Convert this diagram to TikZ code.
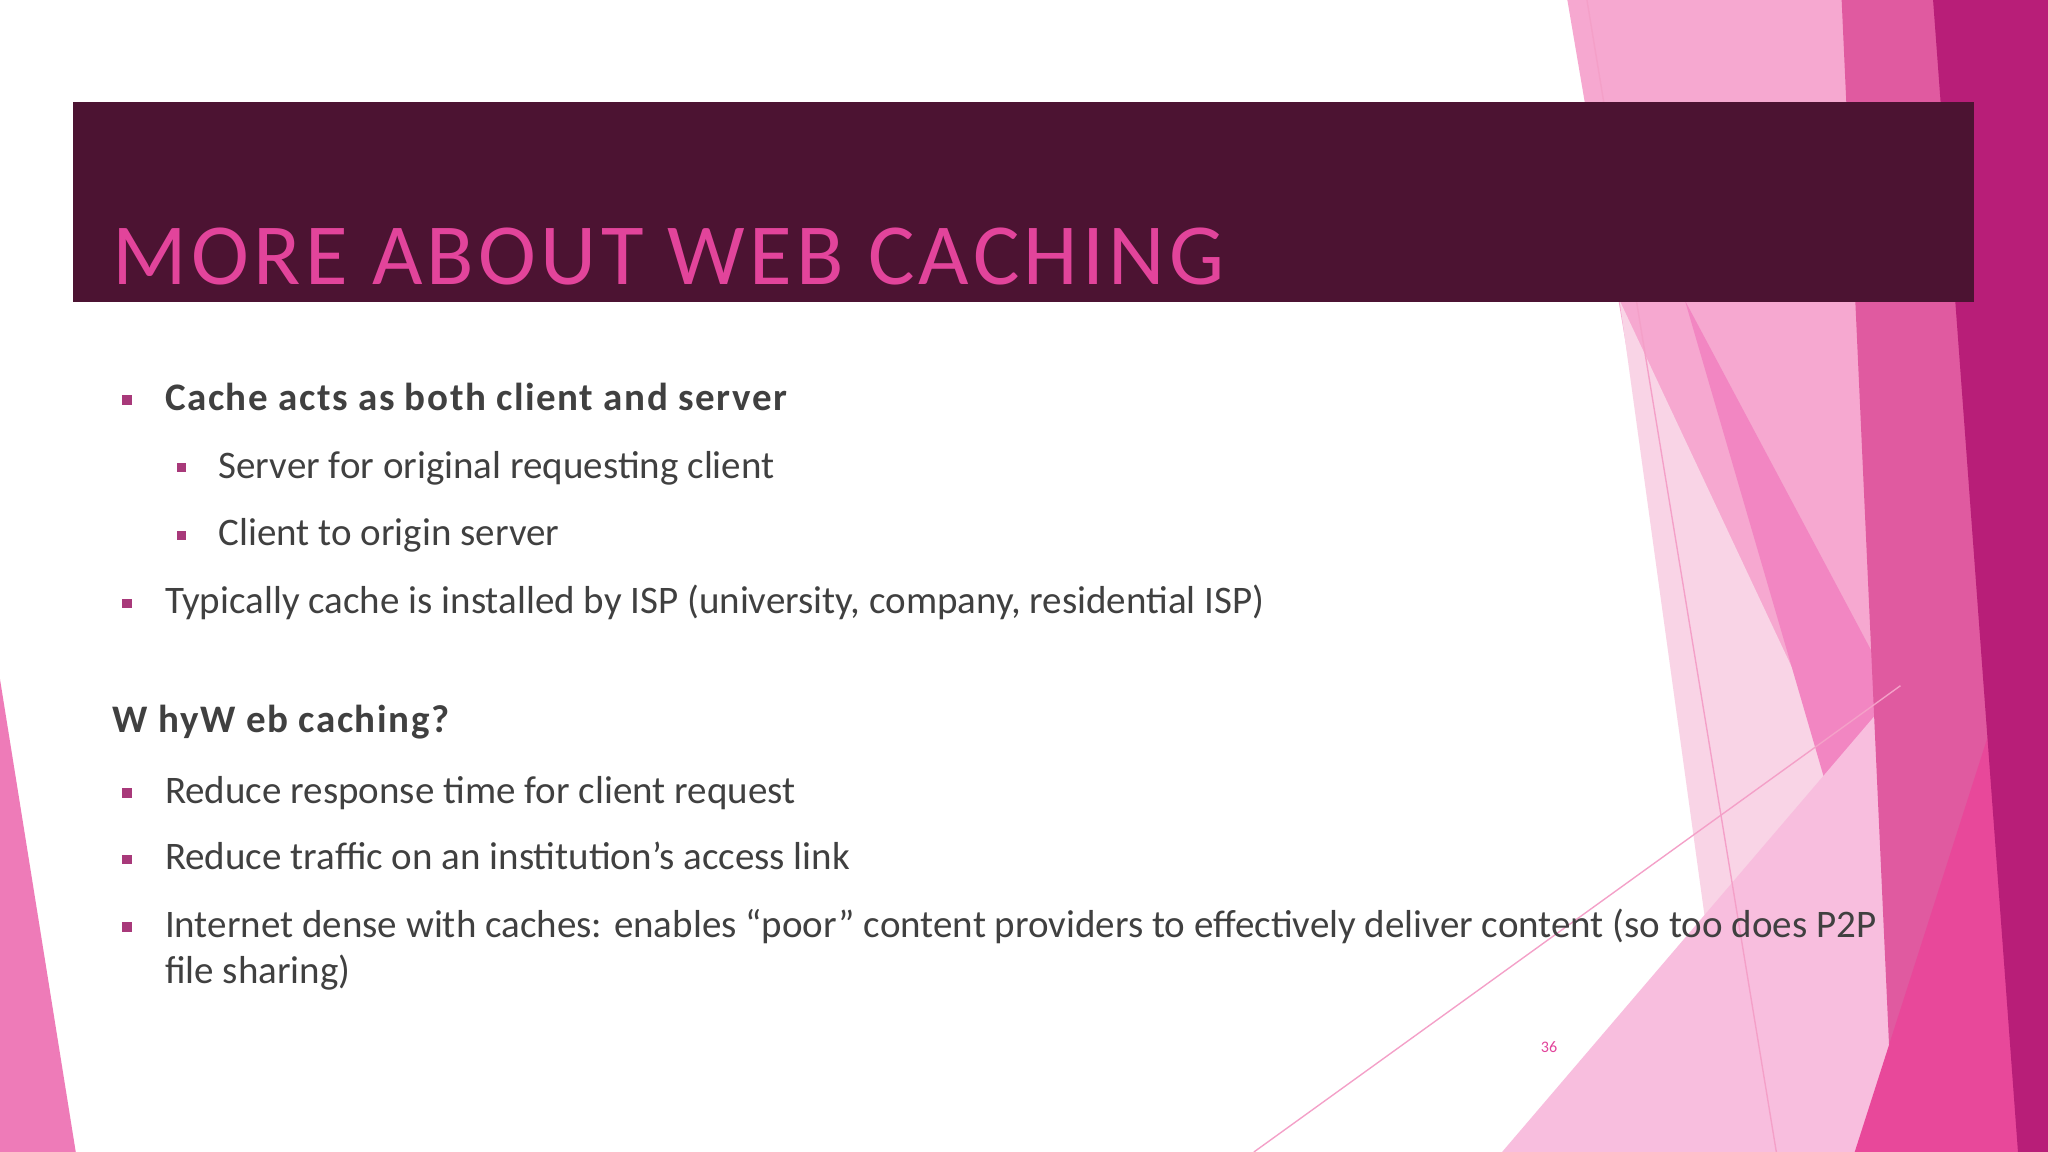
\documentclass[tikz,border=0pt]{standalone}
\usepackage{fontspec}
\setmainfont{Carlito}
\newfontfamily\titlefont[LetterSpace=5]{Carlito}
\newfontfamily\boldsp[LetterSpace=4]{Carlito}
\definecolor{band}{HTML}{4C1332}
\definecolor{tpink}{HTML}{E2449B}
\definecolor{bul}{HTML}{A8397A}
\definecolor{txt}{HTML}{404040}
\definecolor{pA}{HTML}{F6A8D0}
\definecolor{pB}{HTML}{F9D4E6}
\definecolor{pC}{HTML}{F286C2}
\definecolor{pD}{HTML}{F8BEDE}
\definecolor{pE}{HTML}{E05AA0}
\definecolor{pF}{HTML}{E8489A}
\definecolor{pG}{HTML}{B81E78}
\definecolor{pL}{HTML}{F4A0C8}
\definecolor{pLeft}{HTML}{EE7BB8}
\begin{document}
\begin{tikzpicture}[x=0.02cm,y=-0.02cm,
  bl/.style={fill=bul,minimum size=0.15cm,inner sep=0pt},
  tx/.style={anchor=base west,inner sep=0pt,text=txt,font=\fontsize{17}{20}\selectfont}]
\useasboundingbox (0,0) rectangle (1568,882);
\fill[white] (0,0) rectangle (1568,882);
% right decoration
\fill[pA] (1200,0)--(1420,0)--(1490,882)--(1350,882)--cycle;
\fill[pB] (1240,230)--(1470,720)--(1360,882)--(1330,882)--cycle;
\fill[pC] (1290,230)--(1455,540)--(1568,700)--(1568,882)--(1480,882)--cycle;
\fill[pD] (1150,882)--(1455,525)--(1540,882)--cycle;
\fill[pE] (1410,0)--(1500,0)--(1545,882)--(1450,882)--cycle;
\fill[pF] (1568,420)--(1568,882)--(1420,882)--cycle;
\fill[pG] (1480,0)--(1568,0)--(1568,882)--(1545,882)--cycle;
\draw[pL,line width=0.6pt] (1215,0)--(1360,882);
\draw[pL,line width=0.6pt] (960,882)--(1455,525);
% left decoration
\fill[pLeft] (0,520)--(58,882)--(0,882)--cycle;
% header
\fill[band] (56,78) rectangle (1511,231);
\node[anchor=base west,inner sep=0pt,text=tpink,font=\titlefont\fontsize{38}{42}\selectfont] (title) at (86,218) {MORE ABOUT WEB CACHING};
% bullets
\node[bl] (b1) at (97,306) {}; \node[tx,font=\boldsp\bfseries\fontsize{17}{20}\selectfont] (t1) at (126,314) {Cache acts as both client and server};
\node[bl] (b2) at (139,358) {}; \node[tx] (t2) at (167,366) {Server for original requesting client};
\node[bl] (b3) at (139,410) {}; \node[tx] (t3) at (167,418) {Client to origin server};
\node[bl] (b4) at (97,462) {}; \node[tx] (t4) at (126,470) {Typically cache is installed by ISP (university, company, residential ISP)};
\node[tx,font=\boldsp\bfseries\fontsize{17}{20}\selectfont] (t5) at (86,561) {W hyW eb caching?};
\node[bl] (b6) at (97,607) {}; \node[tx] (t6) at (126,615) {Reduce response time for client request};
\node[bl] (b7) at (97,658) {}; \node[tx] (t7) at (126,666) {Reduce traffic on an institution’s access link};
\node[bl] (b8) at (97,710) {}; \node[tx] (t8) at (126,718) {Internet dense with caches: enables “poor” content providers to effectively deliver content (so too does P2P};
\node[tx] (t9) at (126,753) {file sharing)};
\node[anchor=base,inner sep=0pt,text=tpink,font=\fontsize{7}{8}\selectfont] (pg) at (1186,806) {36};
\end{tikzpicture}
\end{document}
